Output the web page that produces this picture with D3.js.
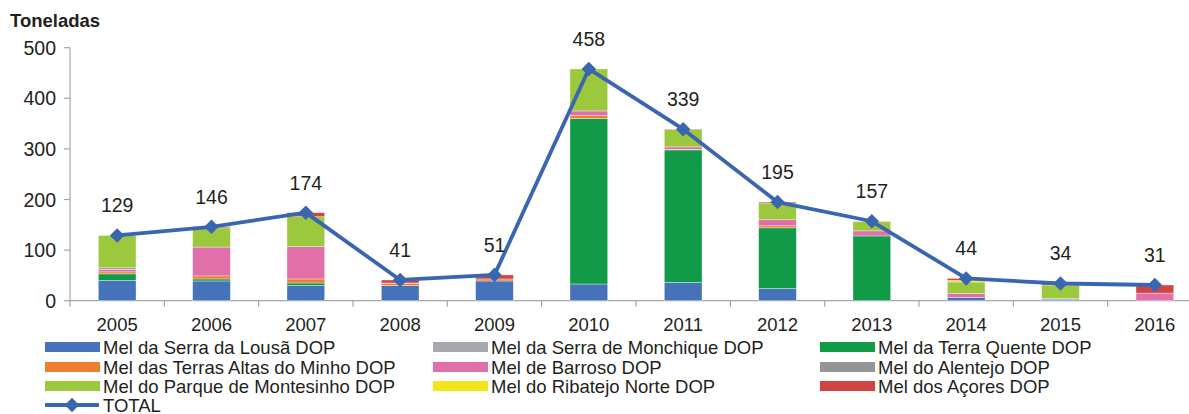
<!DOCTYPE html>
<html>
<head>
<meta charset="utf-8">
<script src="https://cdn.jsdelivr.net/npm/d3@7"></script>
<style>
  body { margin: 0; background: #fff; }
  svg { display: block; font-family: "Liberation Sans", Arial, sans-serif; }
</style>
</head>
<body>
<svg id="chart"></svg>
<script>
// years on the x axis
var years = ["2005", "2006", "2007", "2008", "2009", "2010", "2011", "2012", "2013", "2014", "2015", "2016"]

// stacked series, bottom to top
var seriesNames = [
  "Mel da Serra da Lousã DOP",
  "Mel da Serra de Monchique DOP",
  "Mel da Terra Quente DOP",
  "Mel das Terras Altas do Minho DOP",
  "Mel de Barroso DOP",
  "Mel do Alentejo DOP",
  "Mel do Parque de Montesinho DOP",
  "Mel do Ribatejo Norte DOP",
  "Mel dos Açores DOP"
]
var seriesColors = ["#4672b9", "#a7a9ac", "#119a48", "#ed7d31", "#e06faa", "#939598", "#9bc83c", "#f3e51b", "#cf4544"]

var lousa = [40, 39, 30, 30, 39, 33, 36, 24, 0, 6, 3, 0]
var monchique = [0, 0, 0, 0, 0, 0, 0, 0, 0, 0, 0, 0]
var terraQuente = [13, 4, 5, 0, 0, 327, 262, 120, 128, 0, 0, 0]
var minho = [4, 6, 8, 4, 4, 6, 1, 4, 0, 0, 0, 0]
var barroso = [5, 57, 64, 1, 0, 9, 5, 12, 10, 8, 1, 15]
var alentejo = [3, 0, 0, 0, 0, 0, 0, 0, 0, 0, 0, 0]
var montesinho = [64, 38, 59, 0, 0, 83, 34, 33, 18, 23, 27, 0]
var ribatejo = [0, 0, 0, 0, 0, 0, 0, 0, 0, 3, 0, 0]
var acores = [0, 2, 8, 6, 8, 0, 1, 2, 1, 4, 3, 16]

var total = [129, 146, 174, 41, 51, 458, 339, 195, 157, 44, 34, 31]

var yTicks = [0, 100, 200, 300, 400, 500]

var allSeries = [lousa, monchique, terraQuente, minho, barroso, alentejo, montesinho, ribatejo, acores]

var width = 1189
var height = 414
var lineColor = "#3a66b0"
var textColor = "#231f20"

var svg = d3.select("#chart").attr("width", width).attr("height", height)

// table for d3.stack
var rows = years.map(function (y, i) {
  var r = { year: y }
  seriesNames.forEach(function (name, k) { r[name] = allSeries[k][i] })
  return r
})
var stacked = d3.stack().keys(seriesNames)(rows)

var x = d3.scaleBand().domain(years).range([70, 1202]).paddingInner(0.6).paddingOuter(0.3)
var xTickScale = d3.scaleLinear().domain([0, years.length]).range([70, 1202])
var y = d3.scaleLinear().domain([0, 500]).range([300.7, 47.7])

// y axis
svg.append("line")
  .attr("x1", 70).attr("x2", 70).attr("y1", y(500)).attr("y2", y(0))
  .attr("stroke", "#a6a6a6").attr("stroke-width", 1.2)
svg.append("g").selectAll("line").data(yTicks).enter().append("line")
  .attr("x1", 64).attr("x2", 70)
  .attr("y1", function (d) { return y(d) }).attr("y2", function (d) { return y(d) })
  .attr("stroke", "#a6a6a6").attr("stroke-width", 1.2)
svg.append("g").selectAll("text").data(yTicks).enter().append("text")
  .attr("x", 56).attr("y", function (d) { return y(d) })
  .attr("dy", "0.36em").attr("text-anchor", "end")
  .attr("font-size", 19.5).attr("fill", textColor)
  .text(function (d) { return d })

// x axis
svg.append("line")
  .attr("x1", 70).attr("x2", 1202).attr("y1", y(0)).attr("y2", y(0))
  .attr("stroke", "#a6a6a6").attr("stroke-width", 1.2)
svg.append("g").selectAll("line").data(d3.range(years.length + 1)).enter().append("line")
  .attr("x1", function (d) { return xTickScale(d) }).attr("x2", function (d) { return xTickScale(d) })
  .attr("y1", y(0)).attr("y2", y(0) + 6)
  .attr("stroke", "#a6a6a6").attr("stroke-width", 1.2)
svg.append("g").selectAll("text").data(years).enter().append("text")
  .attr("x", function (d) { return x(d) + x.bandwidth() / 2 })
  .attr("y", 331)
  .attr("text-anchor", "middle").attr("font-size", 18.5).attr("fill", textColor)
  .text(function (d) { return d })

// stacked bars
svg.append("g").selectAll("g").data(stacked).enter().append("g")
  .attr("fill", function (d, i) { return seriesColors[i] })
  .selectAll("rect").data(function (d) { return d.filter(function (p) { return p[1] > p[0] }) })
  .enter().append("rect")
    .attr("x", function (p) { return x(p.data.year) })
    .attr("width", x.bandwidth())
    .attr("y", function (p) { return y(p[1]) })
    .attr("height", function (p) { return y(p[0]) - y(p[1]) })
    .attr("stroke", "#ffffff").attr("stroke-opacity", 0.6).attr("stroke-width", 0.6)

// total line
var line = d3.line()
  .x(function (d, i) { return x(years[i]) + x.bandwidth() / 2 })
  .y(function (d) { return y(d) })
svg.append("path").datum(total)
  .attr("d", line).attr("fill", "none")
  .attr("stroke", lineColor).attr("stroke-width", 3.8).attr("stroke-linejoin", "round")

var diamond = d3.symbol().type(d3.symbolDiamond2).size(135)
svg.append("g").selectAll("path").data(total).enter().append("path")
  .attr("d", diamond)
  .attr("transform", function (d, i) { return "translate(" + (x(years[i]) + x.bandwidth() / 2) + "," + y(d) + ")" })
  .attr("fill", lineColor)

// value labels
svg.append("g").selectAll("text").data(total).enter().append("text")
  .attr("x", function (d, i) { return x(years[i]) + x.bandwidth() / 2 })
  .attr("y", function (d) { return y(d) - 23 })
  .attr("text-anchor", "middle").attr("font-size", 19.5).attr("fill", textColor)
  .text(function (d) { return d })

// axis title
svg.append("text")
  .attr("x", 10).attr("y", 27)
  .attr("font-size", 18.5).attr("font-weight", "bold").attr("fill", textColor)
  .text("Toneladas")

// legend: 3 columns, then TOTAL on its own row
var colX = [45, 433, 820]
var rowY = [347, 367, 386, 405]
var legend = svg.append("g")
seriesNames.forEach(function (name, k) {
  var cx = colX[k % 3]
  var cy = rowY[Math.floor(k / 3)]
  legend.append("rect")
    .attr("x", cx).attr("y", cy - 5).attr("width", 55).attr("height", 10)
    .attr("fill", seriesColors[k])
  legend.append("text")
    .attr("x", cx + 58).attr("y", cy).attr("dy", "0.36em")
    .attr("font-size", 18.5).attr("fill", textColor)
    .text(name)
})
legend.append("line")
  .attr("x1", 45).attr("x2", 99).attr("y1", rowY[3]).attr("y2", rowY[3])
  .attr("stroke", lineColor).attr("stroke-width", 3.8)
legend.append("path")
  .attr("d", diamond)
  .attr("transform", "translate(72," + rowY[3] + ")")
  .attr("fill", lineColor)
legend.append("text")
  .attr("x", 103).attr("y", rowY[3]).attr("dy", "0.36em")
  .attr("font-size", 18.5).attr("fill", textColor)
  .text("TOTAL")
</script>
</body>
</html>
